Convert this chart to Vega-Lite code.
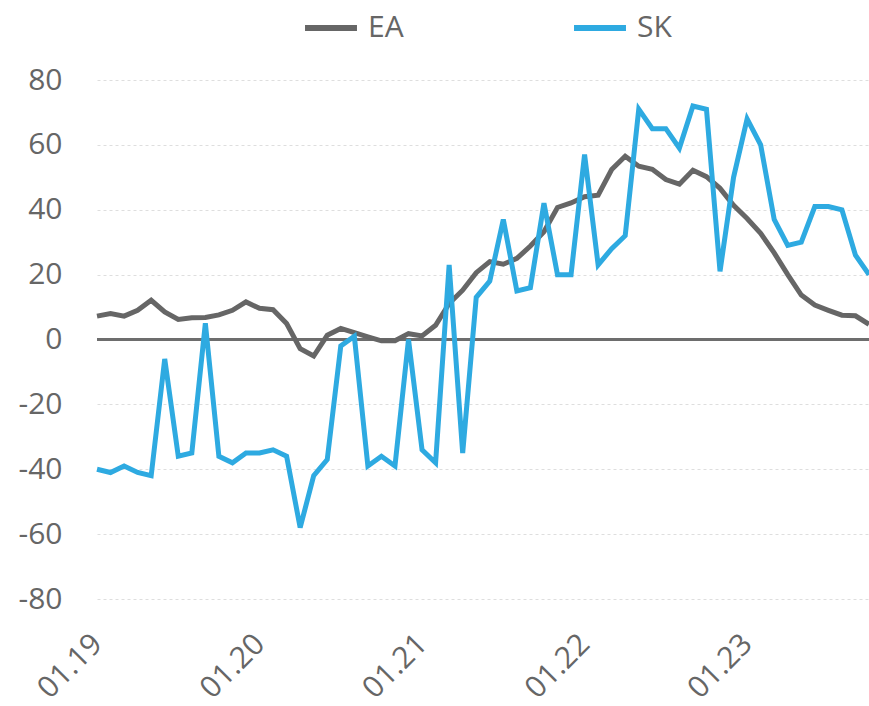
{
  "$schema": "https://vega.github.io/schema/vega-lite/v6.json",
  "width": 772,
  "height": 519,
  "autosize": {"type": "none"},
  "padding": {"left": 97, "top": 80, "right": 0, "bottom": 107},
  "config": {"view": {"stroke": null}, "font": "Open Sans"},
  "data": {
    "values": [
      {"m": "01.19", "EA": 7.2, "SK": -40},
      {"m": "02.19", "EA": 8.0, "SK": -41},
      {"m": "03.19", "EA": 7.2, "SK": -39},
      {"m": "04.19", "EA": 9.0, "SK": -41},
      {"m": "05.19", "EA": 12.1, "SK": -42},
      {"m": "06.19", "EA": 8.5, "SK": -6},
      {"m": "07.19", "EA": 6.2, "SK": -36},
      {"m": "08.19", "EA": 6.7, "SK": -35},
      {"m": "09.19", "EA": 6.8, "SK": 5},
      {"m": "10.19", "EA": 7.6, "SK": -36},
      {"m": "11.19", "EA": 9.0, "SK": -38},
      {"m": "12.19", "EA": 11.6, "SK": -35},
      {"m": "01.20", "EA": 9.6, "SK": -35},
      {"m": "02.20", "EA": 9.2, "SK": -34},
      {"m": "03.20", "EA": 4.9, "SK": -36},
      {"m": "04.20", "EA": -2.8, "SK": -58},
      {"m": "05.20", "EA": -5.1, "SK": -42},
      {"m": "06.20", "EA": 1.3, "SK": -37},
      {"m": "07.20", "EA": 3.4, "SK": -2},
      {"m": "08.20", "EA": 2.1, "SK": 1},
      {"m": "09.20", "EA": 0.8, "SK": -39},
      {"m": "10.20", "EA": -0.4, "SK": -36},
      {"m": "11.20", "EA": -0.4, "SK": -39},
      {"m": "12.20", "EA": 1.8, "SK": 0},
      {"m": "01.21", "EA": 1.1, "SK": -34},
      {"m": "02.21", "EA": 4.4, "SK": -38},
      {"m": "03.21", "EA": 11.1, "SK": 23},
      {"m": "04.21", "EA": 15.2, "SK": -35},
      {"m": "05.21", "EA": 20.6, "SK": 13},
      {"m": "06.21", "EA": 24.0, "SK": 18},
      {"m": "07.21", "EA": 23.2, "SK": 37},
      {"m": "08.21", "EA": 25.0, "SK": 15},
      {"m": "09.21", "EA": 28.8, "SK": 16},
      {"m": "10.21", "EA": 33.2, "SK": 42},
      {"m": "11.21", "EA": 40.7, "SK": 20},
      {"m": "12.21", "EA": 42.1, "SK": 20},
      {"m": "01.22", "EA": 44.0, "SK": 57},
      {"m": "02.22", "EA": 44.5, "SK": 23},
      {"m": "03.22", "EA": 52.4, "SK": 28},
      {"m": "04.22", "EA": 56.5, "SK": 32},
      {"m": "05.22", "EA": 53.4, "SK": 71},
      {"m": "06.22", "EA": 52.5, "SK": 65},
      {"m": "07.22", "EA": 49.3, "SK": 65},
      {"m": "08.22", "EA": 47.9, "SK": 59},
      {"m": "09.22", "EA": 52.2, "SK": 72},
      {"m": "10.22", "EA": 50.2, "SK": 71},
      {"m": "11.22", "EA": 46.6, "SK": 21},
      {"m": "12.22", "EA": 41.4, "SK": 50},
      {"m": "01.23", "EA": 37.3, "SK": 68},
      {"m": "02.23", "EA": 32.7, "SK": 60},
      {"m": "03.23", "EA": 26.7, "SK": 37},
      {"m": "04.23", "EA": 20.0, "SK": 29},
      {"m": "05.23", "EA": 13.7, "SK": 30},
      {"m": "06.23", "EA": 10.6, "SK": 41},
      {"m": "07.23", "EA": 9.0, "SK": 41},
      {"m": "08.23", "EA": 7.5, "SK": 40},
      {"m": "09.23", "EA": 7.3, "SK": 26},
      {"m": "10.23", "EA": 4.7, "SK": 20}
    ]
  },
  "layer": [
    {
      "mark": {"type": "rule", "color": "#6e6e6e", "strokeWidth": 2.5},
      "encoding": {
        "y": {"datum": 0, "type": "quantitative", "scale": {"domain": [-80, 80]}}
      }
    },
    {
      "transform": [{"fold": ["EA", "SK"], "as": ["series", "value"]}],
      "mark": {"type": "line", "strokeWidth": 5},
      "encoding": {
        "x": {
          "field": "m",
          "type": "ordinal",
          "sort": null,
          "scale": {"type": "point", "padding": 0},
          "axis": {
            "values": ["01.19", "01.20", "01.21", "01.22", "01.23"],
            "labelAngle": -45,
            "labelAlign": "right",
            "labelBaseline": "middle",
            "labelPadding": 40,
            "labelFontSize": 30,
            "labelColor": "#666666",
            "ticks": false,
            "domain": false,
            "grid": false,
            "title": null
          }
        },
        "y": {
          "field": "value",
          "type": "quantitative",
          "scale": {"domain": [-80, 80]},
          "axis": {
            "values": [-80, -60, -40, -20, 0, 20, 40, 60, 80],
            "labelExpr": "toString(datum.value)",
            "grid": true,
            "gridColor": "#dedede",
            "gridDash": [3, 3],
            "gridWidth": 1,
            "domain": false,
            "ticks": false,
            "labelPadding": 35,
            "labelFontSize": 30,
            "labelColor": "#666666",
            "title": null
          }
        },
        "color": {
          "field": "series",
          "type": "nominal",
          "scale": {"domain": ["EA", "SK"], "range": ["#666666", "#2EAAE1"]},
          "legend": {
            "orient": "none",
            "legendX": 205,
            "legendY": -81,
            "direction": "horizontal",
            "title": null,
            "padding": 0,
            "symbolType": "stroke",
            "symbolSize": 2700,
            "symbolStrokeWidth": 6,
            "labelFontSize": 30,
            "labelColor": "#666666",
            "labelOffset": 8,
            "columnPadding": 158
          }
        }
      }
    }
  ]
}
